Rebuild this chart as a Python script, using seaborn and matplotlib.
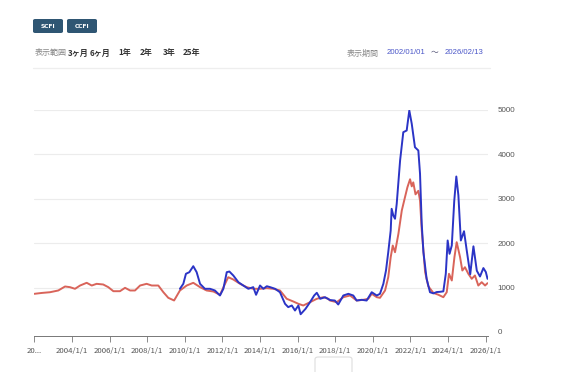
import matplotlib
matplotlib.use('Agg')
import matplotlib.pyplot as plt
import seaborn as sns
import pandas as pd
from matplotlib.patches import FancyBboxPatch
from matplotlib.lines import Line2D

# ---- data ----
ccfi_years = [2002.00, 2002.40, 2002.83, 2003.27, 2003.63, 2003.89, 2004.16, 2004.43, 2004.78, 2005.05,
              2005.31, 2005.66, 2005.93, 2006.20, 2006.55, 2006.82, 2007.09, 2007.35, 2007.62, 2007.97,
              2008.24, 2008.59, 2008.86, 2009.12, 2009.43, 2009.74, 2010.10, 2010.45, 2010.81, 2011.16,
              2011.52, 2011.87, 2012.14, 2012.31, 2012.58, 2012.94, 2013.29, 2013.64, 2014.00, 2014.36,
              2014.71, 2015.06, 2015.42, 2015.77, 2016.04, 2016.30, 2016.66, 2017.02, 2017.37, 2017.63,
              2017.72, 2018.08, 2018.43, 2018.79, 2019.14, 2019.49, 2019.76, 2019.94, 2020.21, 2020.38,
              2020.65, 2020.82, 2020.95, 2021.06, 2021.18, 2021.36, 2021.54, 2021.71, 2021.84, 2021.98,
              2022.07, 2022.15, 2022.27, 2022.42, 2022.51, 2022.60, 2022.69, 2022.78, 2022.95, 2023.22,
              2023.48, 2023.75, 2023.93, 2024.05, 2024.20, 2024.34, 2024.46, 2024.64, 2024.76, 2024.90,
              2025.08, 2025.26, 2025.43, 2025.61, 2025.79, 2025.97, 2026.10]
ccfi_values = [860, 880, 896, 935, 1025, 1010, 973, 1047, 1108, 1047,
               1085, 1070, 1010, 919, 919, 995, 935, 935, 1047, 1085,
               1047, 1047, 896, 770, 710, 935, 1047, 1108, 1010, 935,
               912, 838, 1085, 1234, 1182, 1085, 1010, 973, 973, 987,
               973, 935, 748, 687, 635, 597, 671, 748, 784, 748,
               709, 671, 784, 822, 709, 725, 748, 860, 784, 770,
               935, 1234, 1685, 1948, 1797, 2211, 2736, 3036, 3261, 3440,
               3280, 3370, 3100, 3180, 2962, 2300, 1836, 1350, 1030, 880,
               840, 784, 896, 1311, 1160, 1685, 2023, 1685, 1385, 1459,
               1311, 1198, 1273, 1047, 1122, 1047, 1100]

scfi_years = [2009.74, 2009.92, 2010.06, 2010.24, 2010.45, 2010.63, 2010.81, 2011.07, 2011.34, 2011.60,
              2011.87, 2012.05, 2012.23, 2012.37, 2012.58, 2012.85, 2013.11, 2013.38, 2013.64, 2013.79,
              2014.00, 2014.18, 2014.36, 2014.54, 2014.80, 2015.06, 2015.33, 2015.50, 2015.69, 2015.86,
              2016.04, 2016.16, 2016.42, 2016.66, 2016.88, 2017.02, 2017.20, 2017.46, 2017.72, 2017.98,
              2018.16, 2018.43, 2018.70, 2018.96, 2019.14, 2019.41, 2019.67, 2019.94, 2020.21, 2020.38,
              2020.56, 2020.70, 2020.82, 2020.95, 2021.00, 2021.09, 2021.18, 2021.27, 2021.45, 2021.62,
              2021.80, 2021.94, 2022.07, 2022.24, 2022.42, 2022.51, 2022.60, 2022.69, 2022.86, 2023.04,
              2023.22, 2023.40, 2023.57, 2023.75, 2023.88, 2023.98, 2024.08, 2024.20, 2024.33, 2024.44,
              2024.55, 2024.68, 2024.85, 2024.99, 2025.18, 2025.35, 2025.53, 2025.70, 2025.88, 2026.01,
              2026.10]
scfi_values = [973, 1085, 1311, 1347, 1482, 1347, 1085, 973, 973, 935,
               822, 973, 1347, 1362, 1272, 1121, 1047, 973, 1010, 838,
               1047, 973, 1031, 1010, 973, 896, 635, 560, 597, 484,
               597, 400, 522, 671, 822, 883, 748, 784, 720, 709,
               619, 822, 860, 822, 709, 725, 709, 896, 822, 860,
               1086, 1385, 1797, 2286, 2775, 2624, 2550, 2887, 3863, 4500,
               4538, 4989, 4689, 4162, 4088, 3563, 2437, 1800, 1200, 896,
               870, 900, 905, 915, 1311, 2061, 1761, 1950, 2950, 3502,
               3080, 2061, 2270, 1850, 1300, 1930, 1380, 1250, 1440, 1350,
               1198]

xtick_years = [2002, 2004, 2006, 2008, 2010, 2012, 2014, 2016, 2018, 2020, 2022, 2024, 2026]
xtick_labels = ["20...", "2004/1/1", "2006/1/1", "2008/1/1", "2010/1/1", "2012/1/1", "2014/1/1",
                "2016/1/1", "2018/1/1", "2020/1/1", "2022/1/1", "2024/1/1", "2026/1/1"]
ytick_values = [0, 1000, 2000, 3000, 4000, 5000]

range_buttons = ["3ヶ月", "6ヶ月", "1年", "2年", "3年", "25年"]
period_start = "2002/01/01"
period_end = "2026/02/13"

# ---- style ----
sns.set_theme(style='white')
plt.rcParams['font.family'] = ['Noto Sans CJK JP', 'DejaVu Sans']

W, H = 567, 372
fig = plt.figure(figsize=(W / 100, H / 100), dpi=100)
fig.patch.set_facecolor('white')


def fx(px):
    return px / W


def fy(py):
    return 1 - py / H


x0, x1 = 34.4, 487.9
y0, y5 = 332.0, 110.0
ax = fig.add_axes([fx(x0), fy(y0), fx(x1) - fx(x0), fy(y5) - fy(y0)])
ax.set_facecolor('white')

df = pd.concat([
    pd.DataFrame({'year': ccfi_years, 'value': ccfi_values, 'index': 'CCFI'}),
    pd.DataFrame({'year': scfi_years, 'value': scfi_values, 'index': 'SCFI'}),
])
sns.lineplot(data=df, x='year', y='value', hue='index', hue_order=['CCFI', 'SCFI'],
             palette={'CCFI': '#d9645a', 'SCFI': '#2b34c6'}, estimator=None,
             linewidth=1.4, legend=False, ax=ax, zorder=3)

ax.set_xlim(2002.0, 2026.12)
ax.set_ylim(0, 5000)
for v in ytick_values[1:]:
    ax.axhline(v, color='#ececec', lw=0.8, zorder=0)

ax.yaxis.tick_right()
ax.set_yticks(ytick_values)
ax.set_yticklabels([str(v) for v in ytick_values], family='Liberation Sans')
ax.tick_params(axis='y', length=0, pad=7, labelsize=5.8, labelcolor='#555555')

ax.set_xticks(xtick_years)
ax.set_xticklabels(xtick_labels, family='Liberation Sans')
ax.tick_params(axis='x', length=4, width=0.6, color='#777777', pad=4, labelsize=5.6,
               labelcolor='#555555', direction='out', bottom=True)
ax.get_xticklabels()[0].set_ha('left')
for s in ['top', 'right', 'left']:
    ax.spines[s].set_visible(False)
ax.spines['bottom'].set_position(('outward', 3))
ax.spines['bottom'].set_color('#777777')
ax.spines['bottom'].set_linewidth(0.7)
ax.set_xlabel('')
ax.set_ylabel('')

# ---- top controls ----
for label, bx in [("SCFI", 33), ("CCFI", 67)]:
    fig.patches.append(FancyBboxPatch((fx(bx), fy(33)), fx(30), fy(19) - fy(33),
                                      boxstyle="round,pad=0,rounding_size=0.004",
                                      transform=fig.transFigure, facecolor='#2f5673',
                                      edgecolor='none'))
    fig.text(fx(bx + 15), fy(26), label, color='white', fontsize=4.3, ha='center',
             va='center', fontweight='bold', family='DejaVu Sans')

fig.text(fx(35), fy(53), "表示範囲", color='#888888', fontsize=5.8, ha='left', va='center')
for lbl, bx in zip(range_buttons, [68, 90, 118, 140, 163, 183]):
    fig.text(fx(bx), fy(53), lbl, color='#333333', fontsize=5.8, ha='left', va='center',
             fontweight='bold')

fig.text(fx(347), fy(53), "表示期間", color='#888888', fontsize=5.8, ha='left', va='center')
fig.text(fx(387), fy(53), period_start, color='#4a56c8', fontsize=5.6, ha='left', va='center',
         family='Liberation Sans')
fig.text(fx(431), fy(53), "〜", color='#555577', fontsize=5.6, ha='left', va='center')
fig.text(fx(445), fy(53), period_end, color='#4a56c8', fontsize=5.6, ha='left', va='center',
         family='Liberation Sans')

fig.lines.append(Line2D([fx(33), fx(490)], [fy(67.5), fy(67.5)], transform=fig.transFigure,
                        color='#eeeeee', lw=0.9))

# faint range-selector box at the bottom
fig.patches.append(FancyBboxPatch((fx(315), fy(380)), fx(37), fy(357) - fy(380),
                                  boxstyle="round,pad=0,rounding_size=0.006",
                                  transform=fig.transFigure, facecolor='white',
                                  edgecolor='#dddddd', lw=0.8))

fig.savefig('out.png', dpi=100)
